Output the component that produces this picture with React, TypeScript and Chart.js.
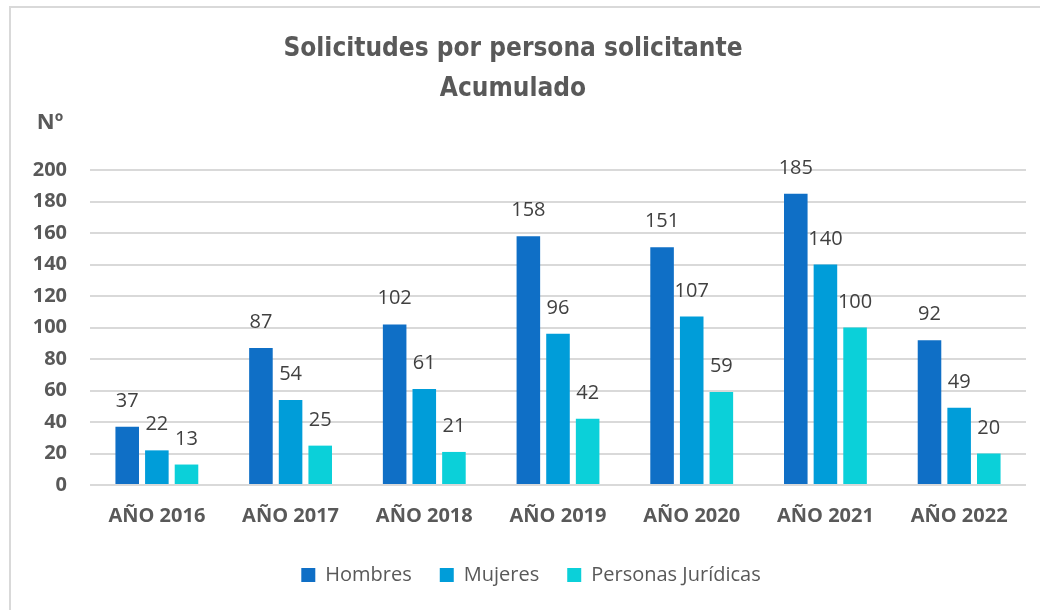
import React, { useEffect, useRef } from "react";
import { Chart, registerables } from "chart.js";

Chart.register(...registerables);

const categories = ["AÑO 2016", "AÑO 2017", "AÑO 2018", "AÑO 2019", "AÑO 2020", "AÑO 2021", "AÑO 2022"];
const hombres = [37, 87, 102, 158, 151, 185, 92];
const mujeres = [22, 54, 61, 96, 107, 140, 49];
const juridicas = [13, 25, 21, 42, 59, 100, 20];
const seriesNames = ["Hombres", "Mujeres", "Personas Jurídicas"];
const seriesColors = ["#0F6FC6", "#009DD9", "#0BD0D9"];
const titleLines = ["Solicitudes por persona solicitante", "Acumulado"];
const yAxisLabel = "Nº";

const GRAY = "#595959";

export default function App() {
  const ref = useRef<HTMLCanvasElement | null>(null);

  useEffect(() => {
    const canvas = ref.current;
    if (!canvas) return;

    const framePlugin = {
      id: "frame",
      beforeDraw(chart: any) {
        const ctx = chart.ctx;
        ctx.save();
        ctx.fillStyle = "#ffffff";
        ctx.fillRect(0, 0, chart.width, chart.height);
        ctx.fillStyle = "#d9d9d9";
        ctx.fillRect(9, 6, 2, chart.height);
        ctx.fillRect(9, 6, chart.width, 2);
        ctx.restore();
      },
      afterLayout(chart: any) {
        const lg = chart.legend;
        if (lg) {
          lg.left += 18;
          lg.right += 18;
        }
      },
      afterDraw(chart: any) {
        const ctx = chart.ctx;
        ctx.save();
        ctx.font = "bold 22px 'Open Sans'";
        ctx.fillStyle = GRAY;
        ctx.textAlign = "center";
        ctx.textBaseline = "middle";
        ctx.fillText(yAxisLabel, 50, 123);
        ctx.restore();
      },
      afterDatasetsDraw(chart: any) {
        const ctx = chart.ctx;
        ctx.save();
        ctx.font = "20px 'Open Sans'";
        ctx.fillStyle = "#404040";
        ctx.textAlign = "center";
        ctx.textBaseline = "alphabetic";
        chart.data.datasets.forEach((ds: any, i: number) => {
          const meta = chart.getDatasetMeta(i);
          meta.data.forEach((el: any, j: number) => {
            ctx.fillText(String(ds.data[j]), el.x, el.y - 20);
          });
        });
        ctx.restore();
      },
    };

    const chart = new Chart(canvas, {
      type: "bar",
      data: {
        labels: categories,
        datasets: [
          { label: seriesNames[0], data: hombres, backgroundColor: seriesColors[0] },
          { label: seriesNames[1], data: mujeres, backgroundColor: seriesColors[1] },
          { label: seriesNames[2], data: juridicas, backgroundColor: seriesColors[2] },
        ],
      },
      options: {
        animation: false,
        responsive: false,
        maintainAspectRatio: false,
        datasets: {
          bar: { categoryPercentage: 0.665, barPercentage: 0.795 },
        },
        layout: { padding: { top: 29, left: 0, right: 14, bottom: 15 } },
        plugins: {
          title: {
            display: true,
            text: titleLines,
            color: GRAY,
            font: { family: "'Liberation Sans Narrow', 'DejaVu Sans Condensed', sans-serif", size: 26, weight: "bold", lineHeight: 1.54 },
            padding: { top: 0, bottom: 61 },
          },
          legend: {
            display: true,
            position: "bottom",
            labels: {
              color: GRAY,
              font: { family: "'Open Sans'", size: 20 },
              boxWidth: 14,
              boxHeight: 14,
              padding: 28,
            },
          },
          tooltip: { enabled: false },
        },
        scales: {
          x: {
            grid: { display: false, drawTicks: false },
            border: { display: false },
            ticks: {
              color: GRAY,
              font: { family: "'Open Sans'", size: 20, weight: "bold" },
              padding: 19,
              maxRotation: 0,
            },
            afterFit(scale: any) {
              scale.height = 52;
            },
          },
          y: {
            min: 0,
            max: 200,
            grid: { color: "#d9d9d9", lineWidth: 2, drawTicks: false },
            border: { display: false },
            ticks: {
              stepSize: 20,
              color: GRAY,
              font: { family: "'Open Sans'", size: 20, weight: "bold" },
              padding: 23,
            },
            afterFit(scale: any) {
              scale.width = 90;
            },
          },
        },
      },
      plugins: [framePlugin],
    } as any);

    return () => chart.destroy();
  }, []);

  return (
    <div style={{ position: "fixed", left: 0, top: 0, width: 1040, height: 610, background: "#fff" }}>
      <canvas ref={ref} width={1040} height={610} style={{ width: 1040, height: 610, display: "block" }} />
    </div>
  );
}
